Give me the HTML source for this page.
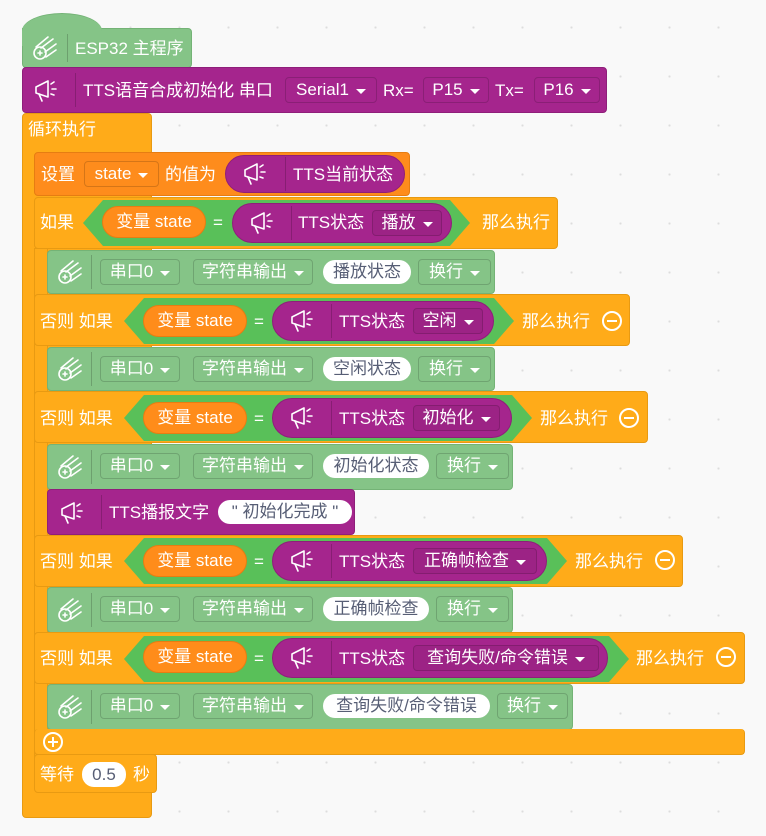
<!DOCTYPE html>
<html><head><meta charset="utf-8"><style>
body{margin:0;width:766px;height:836px;background:#f9f9f9;background-image:radial-gradient(#ddd 1px,transparent 1.2px);background-size:49px 49px;background-position:8px 3px;position:relative;overflow:hidden;font-family:"Liberation Sans","Noto Sans CJK SC",sans-serif}
.b{position:absolute;border-radius:4px;box-sizing:border-box}
.t{position:absolute;color:#fff;font-size:17px;line-height:20px;white-space:nowrap;margin-top:1px}
.dd{position:absolute;box-sizing:border-box;height:26px;border-radius:4px;border:1px solid rgba(0,0,0,.16);color:#fff;font-size:17px;line-height:24px;white-space:nowrap;display:flex;justify-content:center;align-items:center}
.dd:after{content:"";margin-left:7px;margin-top:2px;border-left:5px solid transparent;border-right:5px solid transparent;border-top:5px solid #fff}
.s{position:absolute;box-sizing:border-box;height:24px;border-radius:12px;background:#fff;color:#575e75;font-size:17px;line-height:24px;text-align:center;white-space:nowrap}
.g{background:#85c487;border:1px solid #74b376}
.p{background:#a5258d;border:1px solid #8f1e7a}
.o{background:#ffab19;border:1px solid #e89a12}
.pill{position:absolute;box-sizing:border-box;border-radius:20px}
.var{background:#ff8c1a;border:1px solid #e67d12;color:#fff;font-size:17px;line-height:30px;text-align:center;height:32px;border-radius:16px}
.hex{position:absolute;background:#59c059}
.ic{position:absolute;width:30px;height:30px}
.sep{position:absolute;width:1px;background:rgba(0,0,0,.18)}
.circ{position:absolute;width:20px;height:20px;border:2px solid #fff;border-radius:50%;box-sizing:border-box}
.circ:before{content:"";position:absolute;left:3px;right:3px;top:7px;height:2px;background:#fff}
.plus:after{content:"";position:absolute;top:3px;bottom:3px;left:7px;width:2px;background:#fff}
</style></head><body>
<svg width="0" height="0" style="position:absolute">
<symbol id="mega" viewBox="0 0 30 30"><g fill="none" stroke="#fff" stroke-width="1.6" stroke-linecap="round" stroke-linejoin="round"><path d="M5 11 L17 5 L17 21 L5 17 Z"/><path d="M8 18 L11 25"/><path d="M20 8 L23 6 M21 13 L25 13 M20 18 L23 19"/></g></symbol>
<symbol id="comet" viewBox="0 0 30 30"><g fill="none" stroke="#fff" stroke-width="1.6" stroke-linecap="round"><circle cx="10" cy="20" r="6"/><path d="M8 20h4M10 18v4"/><path d="M6 14 L18 4 M11 15 L23 6 M15 19 L26 11 M16 24 L26 17"/></g></symbol>
</svg>

<div class="b o" style="left:22px;top:113px;width:130px;height:705px"></div>
<div class="t" style="left:28px;top:119px">循环执行</div>

<div class="b g" style="left:22px;top:28px;width:170px;height:40px;border-top-left-radius:0"></div>
<div style="position:absolute;left:22px;top:13px;width:80px;height:32px;background:#85c487;border-radius:40px 40px 0 0/18px 18px 0 0;border-top:1px solid #74b376"></div>
<svg class="ic" style="left:30px;top:33px"><use href="#comet"/></svg>
<div class="sep" style="left:67px;top:34px;height:28px"></div>
<div class="t" style="left:75px;top:38px">ESP32 主程序</div>

<div class="b p" style="left:22px;top:67px;width:585px;height:46px"></div>
<svg class="ic" style="left:31px;top:76px"><use href="#mega"/></svg>
<div class="sep" style="left:75px;top:73px;height:34px"></div>
<div class="t" style="left:83px;top:80px">TTS语音合成初始化 串口</div>
<div class="dd" style="left:285px;top:77px;width:92px">Serial1</div>
<div class="t" style="left:383px;top:80px">Rx=</div>
<div class="dd" style="left:423px;top:77px;width:66px">P15</div>
<div class="t" style="left:495px;top:80px">Tx=</div>
<div class="dd" style="left:534px;top:77px;width:66px">P16</div>

<div class="b" style="left:34px;top:152px;width:376px;height:44px;background:#fe8c1c;border:1px solid #e67d12"></div>
<div class="t" style="left:41px;top:164px">设置</div>
<div class="dd" style="left:84px;top:161px;width:75px">state</div>
<div class="t" style="left:165px;top:164px">的值为</div>
<div class="pill p" style="left:225px;top:155px;width:180px;height:38px"></div>
<svg class="ic" style="left:240px;top:159px"><use href="#mega"/></svg>
<div class="sep" style="left:285px;top:157px;height:34px"></div>
<div class="t" style="left:293px;top:164px">TTS当前状态</div>

<div class="b o" style="left:34px;top:197px;width:524px;height:52px"></div>
<div class="b o" style="left:34px;top:248px;width:14px;height:510px;border-radius:0"></div>
<div class="t" style="left:40px;top:212px">如果</div>
<div class="hex" style="left:83px;top:200px;width:387px;height:46px;clip-path:polygon(0 50%,20px 0,calc(100% - 20px) 0,100% 50%,calc(100% - 20px) 100%,20px 100%)"></div>
<div class="pill var" style="left:102px;top:206px;width:104px">变量 state</div>
<div class="t" style="left:213px;top:212px">=</div>
<div class="pill p" style="left:232px;top:203px;width:220px;height:40px"></div>
<svg class="ic" style="left:247px;top:208px"><use href="#mega"/></svg>
<div class="sep" style="left:291px;top:206px;height:34px"></div>
<div class="t" style="left:298px;top:212px">TTS状态</div>
<div class="dd" style="left:372px;top:210px;width:70px;background:rgba(0,0,0,.05)">播放</div>
<div class="t" style="left:482px;top:212px">那么执行</div>

<div class="b g" style="left:47px;top:250px;width:448px;height:44px"></div>
<svg class="ic" style="left:55px;top:257px"><use href="#comet"/></svg>
<div class="sep" style="left:91px;top:255px;height:34px"></div>
<div class="dd" style="left:100px;top:259px;width:80px">串口0</div>
<div class="dd" style="left:193px;top:259px;width:120px">字符串输出</div>
<div class="s" style="left:323px;top:260px;width:88px">播放状态</div>
<div class="dd" style="left:418px;top:259px;width:73px">换行</div>

<div class="b o" style="left:34px;top:294px;width:596px;height:52px"></div>
<div class="t" style="left:40px;top:311px">否则 如果</div>
<div class="hex" style="left:124px;top:298px;width:390px;height:46px;clip-path:polygon(0 50%,20px 0,calc(100% - 20px) 0,100% 50%,calc(100% - 20px) 100%,20px 100%)"></div>
<div class="pill var" style="left:143px;top:305px;width:104px">变量 state</div>
<div class="t" style="left:254px;top:311px">=</div>
<div class="pill p" style="left:272px;top:301px;width:222px;height:40px"></div>
<svg class="ic" style="left:287px;top:306px"><use href="#mega"/></svg>
<div class="sep" style="left:331px;top:304px;height:34px"></div>
<div class="t" style="left:339px;top:311px">TTS状态</div>
<div class="dd" style="left:413px;top:308px;width:70px;background:rgba(0,0,0,.05)">空闲</div>
<div class="t" style="left:522px;top:311px">那么执行</div>
<div class="circ" style="left:602px;top:311px"></div>

<div class="b g" style="left:47px;top:347px;width:448px;height:44px"></div>
<svg class="ic" style="left:55px;top:354px"><use href="#comet"/></svg>
<div class="sep" style="left:91px;top:352px;height:34px"></div>
<div class="dd" style="left:100px;top:356px;width:80px">串口0</div>
<div class="dd" style="left:193px;top:356px;width:120px">字符串输出</div>
<div class="s" style="left:323px;top:357px;width:88px">空闲状态</div>
<div class="dd" style="left:418px;top:356px;width:73px">换行</div>

<div class="b o" style="left:34px;top:391px;width:614px;height:52px"></div>
<div class="t" style="left:40px;top:408px">否则 如果</div>
<div class="hex" style="left:124px;top:395px;width:408px;height:46px;clip-path:polygon(0 50%,20px 0,calc(100% - 20px) 0,100% 50%,calc(100% - 20px) 100%,20px 100%)"></div>
<div class="pill var" style="left:143px;top:402px;width:104px">变量 state</div>
<div class="t" style="left:254px;top:408px">=</div>
<div class="pill p" style="left:272px;top:398px;width:240px;height:40px"></div>
<svg class="ic" style="left:287px;top:403px"><use href="#mega"/></svg>
<div class="sep" style="left:331px;top:401px;height:34px"></div>
<div class="t" style="left:339px;top:408px">TTS状态</div>
<div class="dd" style="left:413px;top:405px;width:87px;background:rgba(0,0,0,.05)">初始化</div>
<div class="t" style="left:540px;top:408px">那么执行</div>
<div class="circ" style="left:619px;top:408px"></div>

<div class="b g" style="left:47px;top:444px;width:466px;height:46px"></div>
<svg class="ic" style="left:55px;top:452px"><use href="#comet"/></svg>
<div class="sep" style="left:91px;top:450px;height:34px"></div>
<div class="dd" style="left:100px;top:453px;width:80px">串口0</div>
<div class="dd" style="left:193px;top:453px;width:120px">字符串输出</div>
<div class="s" style="left:323px;top:454px;width:106px">初始化状态</div>
<div class="dd" style="left:436px;top:453px;width:73px">换行</div>

<div class="b p" style="left:47px;top:489px;width:308px;height:46px"></div>
<svg class="ic" style="left:57px;top:498px"><use href="#mega"/></svg>
<div class="sep" style="left:101px;top:495px;height:34px"></div>
<div class="t" style="left:109px;top:502px">TTS播报文字</div>
<div class="s" style="left:218px;top:500px;width:134px">" 初始化完成 "</div>

<div class="b o" style="left:34px;top:535px;width:649px;height:52px"></div>
<div class="t" style="left:40px;top:551px">否则 如果</div>
<div class="hex" style="left:124px;top:538px;width:443px;height:46px;clip-path:polygon(0 50%,20px 0,calc(100% - 20px) 0,100% 50%,calc(100% - 20px) 100%,20px 100%)"></div>
<div class="pill var" style="left:143px;top:545px;width:104px">变量 state</div>
<div class="t" style="left:254px;top:551px">=</div>
<div class="pill p" style="left:272px;top:541px;width:275px;height:40px"></div>
<svg class="ic" style="left:287px;top:546px"><use href="#mega"/></svg>
<div class="sep" style="left:331px;top:544px;height:34px"></div>
<div class="t" style="left:339px;top:551px">TTS状态</div>
<div class="dd" style="left:413px;top:548px;width:124px;background:rgba(0,0,0,.05)">正确帧检查</div>
<div class="t" style="left:575px;top:551px">那么执行</div>
<div class="circ" style="left:655px;top:550px"></div>

<div class="b g" style="left:47px;top:587px;width:466px;height:46px"></div>
<svg class="ic" style="left:55px;top:595px"><use href="#comet"/></svg>
<div class="sep" style="left:91px;top:593px;height:34px"></div>
<div class="dd" style="left:100px;top:596px;width:80px">串口0</div>
<div class="dd" style="left:193px;top:596px;width:120px">字符串输出</div>
<div class="s" style="left:323px;top:597px;width:106px">正确帧检查</div>
<div class="dd" style="left:436px;top:596px;width:73px">换行</div>

<div class="b o" style="left:34px;top:632px;width:711px;height:52px"></div>
<div class="t" style="left:40px;top:648px">否则 如果</div>
<div class="hex" style="left:124px;top:636px;width:505px;height:46px;clip-path:polygon(0 50%,20px 0,calc(100% - 20px) 0,100% 50%,calc(100% - 20px) 100%,20px 100%)"></div>
<div class="pill var" style="left:143px;top:641px;width:104px">变量 state</div>
<div class="t" style="left:254px;top:648px">=</div>
<div class="pill p" style="left:272px;top:638px;width:336px;height:40px"></div>
<svg class="ic" style="left:287px;top:643px"><use href="#mega"/></svg>
<div class="sep" style="left:331px;top:641px;height:34px"></div>
<div class="t" style="left:339px;top:648px">TTS状态</div>
<div class="dd" style="left:413px;top:645px;width:186px;background:rgba(0,0,0,.05)">查询失败/命令错误</div>
<div class="t" style="left:636px;top:648px">那么执行</div>
<div class="circ" style="left:716px;top:647px"></div>

<div class="b g" style="left:47px;top:684px;width:526px;height:46px"></div>
<svg class="ic" style="left:55px;top:692px"><use href="#comet"/></svg>
<div class="sep" style="left:91px;top:690px;height:34px"></div>
<div class="dd" style="left:100px;top:693px;width:80px">串口0</div>
<div class="dd" style="left:193px;top:693px;width:120px">字符串输出</div>
<div class="s" style="left:323px;top:694px;width:167px">查询失败/命令错误</div>
<div class="dd" style="left:497px;top:693px;width:71px">换行</div>

<div class="b o" style="left:34px;top:729px;width:711px;height:26px;border-top:none"></div>
<div class="circ plus" style="left:43px;top:732px"></div>

<div class="b o" style="left:34px;top:754px;width:123px;height:39px"></div>
<div class="t" style="left:40px;top:764px">等待</div>
<div class="s" style="left:82px;top:762px;width:44px;height:25px;line-height:25px">0.5</div>
<div class="t" style="left:133px;top:764px">秒</div>
</body></html>
